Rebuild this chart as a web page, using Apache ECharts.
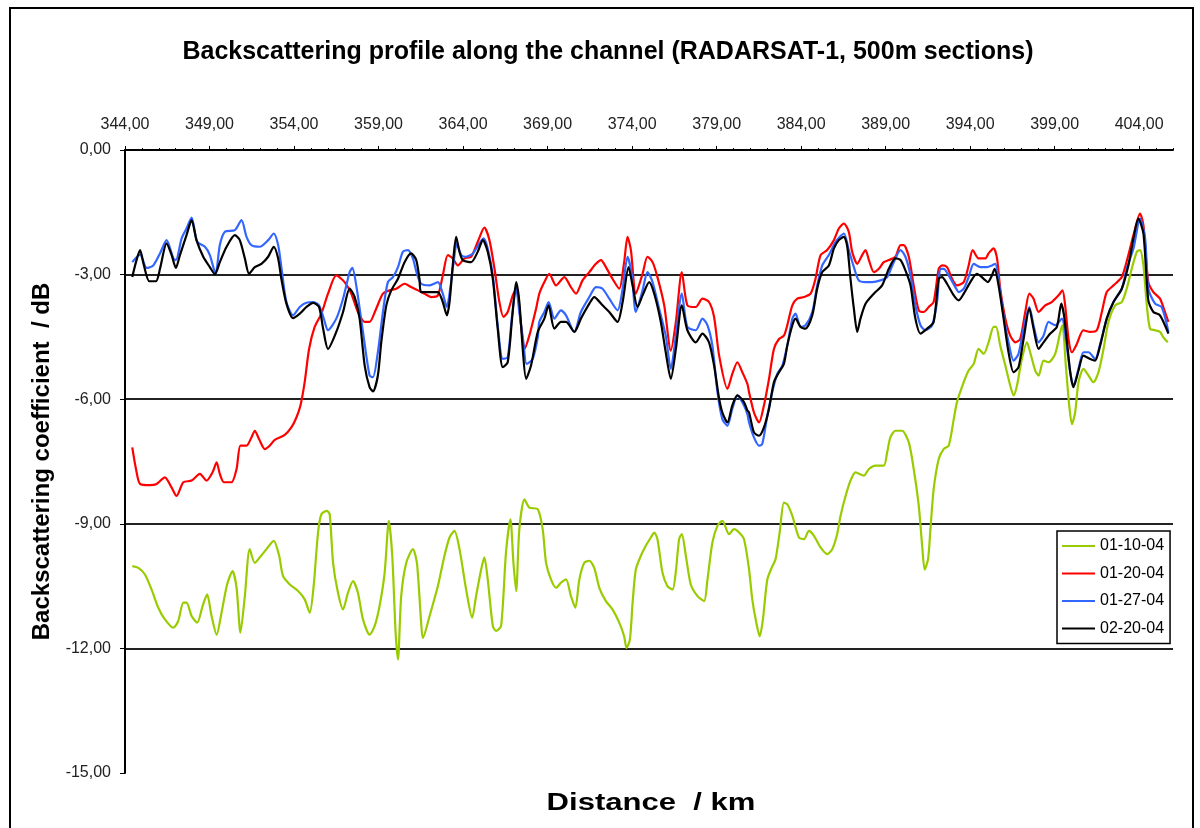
<!DOCTYPE html>
<html>
<head>
<meta charset="utf-8">
<title>Backscattering profile along the channel</title>
<script src="https://cdn.jsdelivr.net/npm/echarts@6/dist/echarts.min.js"></script>
<style>
  html, body { margin: 0; padding: 0; background: #fff; }
  #chart { width: 1200px; height: 828px; }
</style>
</head>
<body>
<div id="chart"></div>
<script>
// [distance km, backscattering dB], one list per acquisition date
const s0110 = [
  [344.43,-10.02],[344.79,-10.06],[345.18,-10.22],[345.57,-10.58],[345.97,-11.02],[346.36,-11.30],[346.86,-11.50],[347.15,-11.34],
  [347.45,-10.90],[347.64,-10.90],[347.94,-11.22],[348.27,-11.38],[348.59,-10.98],[348.86,-10.70],[349.12,-11.22],[349.42,-11.67],
  [349.71,-11.14],[350.04,-10.46],[350.36,-10.14],[350.60,-10.54],[350.83,-11.62],[351.09,-10.74],[351.38,-9.61],[351.68,-9.94],
  [351.97,-9.81],[352.37,-9.61],[352.80,-9.41],[353.12,-9.77],[353.35,-10.26],[353.75,-10.46],[354.24,-10.62],[354.63,-10.82],
  [354.93,-11.14],[355.16,-10.50],[355.42,-9.21],[355.62,-8.77],[355.95,-8.69],
  [356.11,-8.77],[356.31,-9.94],[356.60,-10.66],[356.90,-11.06],[357.19,-10.66],[357.49,-10.38],[357.78,-10.66],[358.08,-11.30],
  [358.47,-11.67],[358.77,-11.46],[359.06,-10.98],[359.36,-10.18],[359.61,-8.93],[359.81,-9.77],[360.01,-11.62],[360.15,-12.27],
  [360.34,-10.74],[360.64,-9.94],[361.03,-9.61],[361.27,-9.94],[361.52,-11.38],[361.62,-11.75],[362.02,-11.22],[362.51,-10.50],
  [362.90,-9.77],[363.20,-9.33],[363.49,-9.17],[363.79,-9.61],[364.18,-10.58],[364.54,-11.26],[364.77,-10.74],[365.07,-10.10],
  [365.26,-9.81],[365.46,-10.34],[365.76,-11.46],[365.95,-11.58],[366.25,-11.46],[366.54,-9.69],[366.80,-8.89],[366.98,-9.94],
  [367.14,-10.62],[367.33,-9.13],[367.63,-8.41],[367.92,-8.61],[368.42,-8.65],
  [368.71,-9.13],[368.91,-9.94],[369.20,-10.34],[369.50,-10.54],[369.79,-10.42],[370.09,-10.34],[370.38,-10.74],[370.64,-11.02],
  [370.88,-10.34],[371.17,-9.94],[371.47,-9.89],[371.76,-10.06],[372.06,-10.54],[372.45,-10.86],[372.84,-11.06],[373.24,-11.38],
  [373.53,-11.71],[373.67,-11.99],[373.87,-11.79],[374.03,-10.90],[374.22,-10.10],[374.52,-9.77],[374.81,-9.53],[375.11,-9.33],
  [375.31,-9.21],[375.50,-9.37],[375.80,-10.18],[376.09,-10.50],[376.39,-10.58],[376.59,-10.14],[376.78,-9.37],[376.94,-9.25],
  [377.18,-9.77],[377.47,-10.46],[377.87,-10.74],[378.26,-10.86],[378.46,-10.34],[378.75,-9.45],[379.05,-9.05],[379.34,-8.93],
  [379.74,-9.25],[380.03,-9.13],[380.33,-9.21],[380.62,-9.37],
  [380.92,-10.10],[381.11,-10.82],[381.31,-11.30],[381.55,-11.71],[381.74,-11.30],[382.00,-10.34],[382.30,-10.02],[382.49,-9.85],
  [382.73,-9.21],[382.98,-8.49],[383.18,-8.53],[383.48,-8.81],[383.87,-9.33],[384.17,-9.37],[384.46,-9.17],[384.76,-9.29],
  [385.15,-9.57],[385.54,-9.73],[385.84,-9.61],[386.13,-9.25],[386.33,-8.81],[386.63,-8.33],[386.92,-7.96],[387.22,-7.76],
  [387.71,-7.84],[388.01,-7.68],[388.40,-7.60],[388.89,-7.60],[389.09,-7.28],[389.28,-6.92],[389.58,-6.76],[389.97,-6.76],
  [390.37,-7.04],[390.66,-7.68],[390.96,-8.57],[391.16,-9.53],[391.31,-10.10],[391.51,-9.85],[391.65,-9.13],[391.84,-8.17],
  [392.14,-7.44],[392.43,-7.20],[392.73,-7.12],[393.03,-6.48],[393.22,-6.07],
  [393.62,-5.59],[393.91,-5.31],[394.21,-5.15],[394.50,-4.79],[394.80,-4.91],[395.09,-4.63],[395.39,-4.26],[395.53,-4.26],
  [395.78,-4.71],[396.08,-5.19],[396.37,-5.67],[396.57,-5.91],[396.77,-5.67],[397.06,-5.03],[397.36,-4.63],[397.55,-4.87],
  [397.85,-5.31],[398.05,-5.43],[398.34,-5.07],[398.64,-5.11],[399.03,-4.91],[399.33,-4.38],[399.46,-4.22],[399.66,-5.19],
  [399.86,-6.15],[400.02,-6.60],[400.21,-6.32],[400.41,-5.59],[400.70,-5.27],[401.00,-5.43],[401.29,-5.59],[401.59,-5.35],
  [401.89,-4.79],[402.18,-4.14],[402.58,-3.74],[402.97,-3.66],[403.26,-3.34],[403.56,-2.86],[403.86,-2.45],[404.05,-2.41],
  [404.25,-2.78],[404.45,-3.74],[404.64,-4.30],[404.94,-4.34],[405.23,-4.38],[405.43,-4.51],[405.69,-4.63]
];

const s0120 = [
  [344.43,-7.16],[344.65,-7.68],[344.89,-8.04],[345.48,-8.07],[345.87,-8.04],[346.36,-7.88],[346.76,-8.13],[347.05,-8.33],
  [347.45,-8.00],[347.94,-7.96],[348.43,-7.80],[348.82,-7.96],[349.18,-7.76],[349.42,-7.52],[349.61,-7.80],[349.85,-8.00],
  [350.30,-8.00],[350.60,-7.68],[350.83,-7.12],[351.19,-7.12],[351.48,-6.92],[351.68,-6.76],[351.93,-6.96],[352.27,-7.20],
  [352.56,-7.12],[352.86,-6.98],[353.45,-6.86],[353.84,-6.68],[354.14,-6.44],[354.38,-6.15],[354.63,-5.59],[354.89,-4.79],
  [355.22,-4.26],[355.62,-3.94],[356.01,-3.46],
  [356.50,-3.02],[356.99,-3.18],[357.39,-3.46],[357.78,-3.90],[358.18,-4.14],[358.47,-4.14],[358.86,-3.82],[359.26,-3.46],
  [359.65,-3.38],[360.05,-3.34],[360.54,-3.22],[360.93,-3.30],[361.33,-3.38],[361.72,-3.46],[362.11,-3.54],[362.51,-3.50],
  [362.80,-3.02],[363.10,-2.53],[363.39,-2.61],[363.69,-2.78],[364.08,-2.61],[364.48,-2.57],[364.87,-2.21],[365.26,-1.87],
  [365.56,-2.17],[365.86,-2.86],[366.15,-3.66],[366.39,-4.02],[366.64,-3.90],[366.94,-3.50],[367.17,-3.34],[367.43,-4.22],
  [367.63,-4.79],[367.92,-4.47],[368.32,-3.82],
  [368.51,-3.46],[368.81,-3.18],[369.10,-2.98],[369.50,-3.26],[369.99,-3.06],[370.38,-3.30],[370.68,-3.46],[371.07,-3.14],
  [371.47,-2.94],[371.86,-2.74],[372.16,-2.65],[372.45,-2.82],[372.84,-3.10],[373.24,-3.34],[373.53,-2.70],[373.73,-2.09],
  [373.93,-2.41],[374.22,-3.46],[374.62,-2.98],[374.91,-2.57],[375.21,-2.70],[375.50,-3.06],[375.90,-3.74],[376.29,-4.83],
  [376.59,-4.14],[376.94,-2.94],[377.27,-3.74],[377.77,-3.78],[378.16,-3.58],[378.55,-3.66],[378.85,-4.02],[379.15,-4.95],
  [379.64,-5.75],[379.93,-5.39],[380.23,-5.11],[380.52,-5.35],[380.82,-5.63],
  [380.92,-5.83],[381.21,-6.32],[381.51,-6.56],[381.80,-6.15],[382.10,-5.51],[382.39,-4.79],[382.69,-4.55],[382.98,-4.47],
  [383.18,-4.22],[383.48,-3.74],[383.77,-3.58],[384.17,-3.54],[384.56,-3.46],[384.85,-3.10],[385.15,-2.53],[385.54,-2.41],
  [385.94,-2.17],[386.23,-1.89],[386.53,-1.77],[386.82,-1.97],[387.02,-2.45],[387.32,-2.74],[387.61,-2.53],[387.81,-2.41],
  [388.01,-2.65],[388.30,-2.94],[388.60,-2.86],[388.89,-2.70],[389.19,-2.65],[389.58,-2.57],[389.88,-2.29],[390.07,-2.29],
  [390.37,-2.57],[390.66,-3.26],[390.96,-3.86],[391.25,-3.90],[391.55,-3.78],[391.84,-3.66],[392.14,-2.86],[392.34,-2.78],
  [392.63,-2.82],[392.93,-3.10],[393.22,-3.26],
  [393.62,-3.18],[393.91,-2.78],[394.15,-2.41],[394.50,-2.61],[394.90,-2.61],[395.09,-2.49],[395.39,-2.37],[395.59,-2.61],
  [395.78,-3.34],[396.08,-4.06],[396.37,-4.47],[396.67,-4.63],[396.96,-4.55],[397.26,-3.90],[397.50,-3.46],[397.75,-3.58],
  [398.05,-3.90],[398.44,-3.74],[398.83,-3.66],[399.23,-3.50],[399.46,-3.38],[399.62,-3.74],[399.82,-4.55],[400.02,-4.87],
  [400.31,-4.67],[400.70,-4.34],[401.10,-4.38],[401.49,-4.34],[401.79,-3.90],[402.08,-3.42],[402.48,-3.26],[402.97,-3.06],
  [403.36,-2.53],[403.66,-2.05],[404.05,-1.53],[404.25,-1.81],[404.54,-3.18],[404.84,-3.42],[405.23,-3.58],[405.49,-3.86],
  [405.73,-4.14]
];

const s0127 = [
  [344.43,-2.70],[344.89,-2.52],[345.28,-2.84],[345.67,-2.78],[346.07,-2.49],[346.46,-2.17],[346.86,-2.61],[347.01,-2.65],
  [347.35,-2.13],[347.64,-1.89],[347.94,-1.63],[348.27,-2.21],[348.73,-2.33],[349.02,-2.53],[349.36,-2.98],[349.61,-2.29],
  [349.91,-1.97],[350.50,-1.93],[350.89,-1.69],[351.19,-2.09],[351.48,-2.29],[351.97,-2.33],[352.47,-2.17],[352.80,-2.01],
  [353.06,-2.29],[353.25,-2.82],[353.55,-3.66],[353.94,-3.98],[354.34,-3.78],[354.73,-3.68],[355.13,-3.66],[355.48,-3.74],
  [355.76,-4.06],[356.01,-4.34],
  [356.50,-4.06],[356.90,-3.58],[357.29,-2.94],[357.45,-2.84],[357.68,-3.26],[358.08,-4.38],[358.47,-5.43],[358.67,-5.47],
  [358.96,-4.87],[359.26,-3.90],[359.55,-3.18],[359.85,-3.06],[360.15,-2.82],[360.44,-2.45],[360.74,-2.41],[361.03,-2.61],
  [361.27,-2.98],[361.52,-3.22],[362.02,-3.26],[362.51,-3.18],[362.80,-3.46],[363.04,-3.78],[363.24,-3.34],[363.43,-2.74],
  [363.63,-2.25],[363.89,-2.53],[364.18,-2.57],[364.58,-2.49],[364.97,-2.25],[365.21,-2.13],[365.46,-2.37],[365.76,-3.02],
  [366.05,-4.22],[366.35,-5.03],[366.64,-4.99],[366.90,-3.98],[367.14,-3.34],[367.33,-3.90],[367.57,-4.63],[367.76,-5.15],
  [368.12,-5.03],[368.42,-4.51],
  [368.51,-4.14],[368.81,-3.90],[369.06,-3.66],[369.40,-4.06],[369.79,-3.86],[370.09,-3.98],[370.58,-4.38],[370.97,-3.90],
  [371.47,-3.54],[371.86,-3.30],[372.25,-3.34],[372.65,-3.58],[373.14,-3.86],[373.44,-3.34],[373.73,-2.57],[373.99,-3.02],
  [374.22,-3.90],[374.62,-3.38],[374.91,-2.94],[375.21,-3.18],[375.60,-3.82],[375.99,-4.47],[376.29,-5.27],[376.59,-4.47],
  [376.94,-3.46],[377.27,-4.26],[377.77,-4.34],[378.16,-4.06],[378.46,-4.22],[378.75,-4.71],[379.05,-5.83],[379.34,-6.48],
  [379.64,-6.64],[379.93,-6.23],[380.23,-5.91],[380.62,-6.15],[380.82,-6.36],
  [380.92,-6.56],[381.21,-6.92],[381.51,-7.12],[381.70,-7.08],[382.00,-6.40],[382.29,-5.83],[382.59,-5.39],[382.89,-5.19],
  [383.18,-4.71],[383.48,-4.06],[383.67,-3.94],[383.97,-4.26],[384.26,-4.22],[384.66,-3.90],[384.95,-3.26],[385.25,-2.78],
  [385.64,-2.53],[386.04,-2.21],[386.53,-2.01],[386.82,-2.41],[387.12,-2.82],[387.41,-3.14],[387.81,-3.18],[388.20,-3.18],
  [388.69,-3.14],[389.09,-3.06],[389.48,-2.70],[389.88,-2.41],[390.17,-2.57],[390.47,-3.02],[390.76,-3.74],[391.06,-4.22],
  [391.35,-4.34],[391.75,-4.22],[392.04,-3.66],[392.24,-2.86],[392.44,-2.86],[392.73,-3.02],[393.12,-3.30],
  [393.32,-3.42],[393.62,-3.34],[393.91,-3.06],[394.21,-2.74],[394.60,-2.82],[395.00,-2.82],[395.29,-2.78],[395.49,-2.74],
  [395.68,-3.14],[395.98,-3.98],[396.27,-4.63],[396.57,-5.07],[396.86,-4.91],[397.16,-4.30],[397.50,-3.78],[397.75,-4.22],
  [398.05,-4.63],[398.34,-4.47],[398.64,-4.14],[399.03,-4.22],[399.43,-4.06],[399.66,-4.55],[399.92,-5.35],[400.11,-5.67],
  [400.41,-5.27],[400.70,-4.87],[401.00,-4.87],[401.39,-5.03],[401.69,-4.67],[402.08,-4.06],[402.48,-3.66],[402.97,-3.34],
  [403.26,-2.86],[403.66,-2.37],[404.05,-1.65],[404.35,-2.13],[404.54,-3.34],[404.94,-3.70],[405.33,-3.78],[405.73,-4.38]
];

const s0220 = [
  [344.43,-3.06],[344.65,-2.70],[344.89,-2.41],[345.12,-2.78],[345.44,-3.16],[345.83,-3.16],[346.07,-2.86],[346.46,-2.25],
  [346.76,-2.53],[347.01,-2.84],[347.25,-2.53],[347.64,-2.05],[347.94,-1.69],[348.23,-2.17],[348.63,-2.57],[349.02,-2.82],
  [349.32,-2.99],[349.61,-2.70],[350.01,-2.33],[350.50,-2.05],[350.79,-2.17],[351.09,-2.61],[351.34,-2.98],[351.68,-2.82],
  [352.07,-2.74],[352.47,-2.57],[352.80,-2.33],[353.06,-2.61],[353.25,-3.10],[353.55,-3.70],[353.94,-4.05],[354.34,-3.94],
  [354.73,-3.78],[355.13,-3.68],[355.48,-3.78],[355.72,-4.30],[356.01,-4.79],
  [356.50,-4.38],[356.90,-3.90],[357.29,-3.34],[357.59,-3.54],[357.88,-4.06],[358.18,-5.19],[358.47,-5.71],[358.67,-5.81],
  [358.96,-5.43],[359.16,-4.63],[359.46,-3.74],[359.75,-3.38],[360.15,-3.10],[360.54,-2.70],[360.93,-2.49],[361.23,-2.65],
  [361.42,-3.10],[361.52,-3.42],[362.02,-3.42],[362.51,-3.42],[362.80,-3.66],[363.04,-3.98],[363.20,-3.66],[363.39,-2.78],
  [363.59,-2.09],[363.79,-2.45],[363.98,-2.65],[364.48,-2.70],[364.87,-2.45],[365.17,-2.17],[365.46,-2.45],[365.76,-3.10],
  [366.05,-4.30],[366.35,-5.23],[366.64,-5.11],[366.90,-4.06],[367.14,-3.18],[367.33,-3.66],[367.53,-4.79],[367.73,-5.51],
  [368.02,-5.19],[368.42,-4.38],
  [368.81,-4.06],[369.06,-3.74],[369.40,-4.30],[369.79,-4.14],[370.09,-4.14],[370.58,-4.38],[370.97,-4.06],[371.47,-3.70],
  [371.76,-3.54],[372.25,-3.74],[372.65,-3.90],[373.14,-4.14],[373.44,-3.66],[373.79,-2.82],[374.03,-3.26],[374.32,-3.78],
  [374.62,-3.50],[375.01,-3.18],[375.31,-3.46],[375.70,-4.14],[375.99,-4.87],[376.29,-5.51],[376.59,-4.79],[376.94,-3.74],
  [377.27,-4.34],[377.77,-4.63],[378.16,-4.42],[378.55,-4.63],[378.85,-5.19],[379.15,-5.99],[379.34,-6.32],[379.64,-6.56],
  [379.93,-6.15],[380.23,-5.91],[380.62,-6.07],[380.82,-6.27],
  [380.92,-6.32],[381.21,-6.80],[381.51,-6.88],[381.80,-6.68],[382.10,-6.23],[382.39,-5.59],[382.69,-5.35],[382.98,-5.15],
  [383.18,-4.71],[383.48,-4.22],[383.67,-4.06],[383.97,-4.26],[384.26,-4.30],[384.66,-3.98],[384.95,-3.34],[385.25,-2.94],
  [385.64,-2.78],[385.94,-2.37],[386.23,-2.17],[386.53,-2.09],[386.73,-2.33],[386.92,-3.10],[387.12,-3.82],[387.32,-4.38],
  [387.51,-4.06],[387.81,-3.70],[388.30,-3.46],[388.79,-3.26],[389.19,-2.86],[389.58,-2.61],[389.88,-2.65],[390.17,-2.90],
  [390.47,-3.26],[390.76,-4.06],[391.06,-4.42],[391.45,-4.30],[391.84,-4.14],[392.14,-3.10],[392.34,-3.06],[392.63,-3.22],
  [393.03,-3.50],
  [393.32,-3.62],[393.62,-3.46],[394.01,-3.18],[394.40,-2.98],[394.80,-3.10],[395.05,-3.18],[395.29,-3.02],[395.45,-2.86],
  [395.68,-3.26],[395.98,-4.06],[396.27,-4.87],[396.57,-5.35],[396.86,-5.23],[397.16,-4.55],[397.50,-3.82],[397.75,-4.30],
  [398.05,-4.79],[398.34,-4.63],[398.74,-4.42],[399.13,-4.26],[399.39,-3.70],[399.58,-4.06],[399.92,-5.35],[400.11,-5.71],
  [400.41,-5.31],[400.70,-4.95],[401.10,-5.03],[401.39,-5.07],[401.69,-4.71],[402.08,-4.06],[402.48,-3.66],[402.97,-3.34],
  [403.36,-2.78],[403.66,-2.13],[403.95,-1.65],[404.25,-2.01],[404.54,-3.62],[404.84,-3.90],[405.23,-3.98],[405.73,-4.42]
];

const seriesNames = ['01-10-04', '01-20-04', '01-27-04', '02-20-04'];
const seriesData = [s0110, s0120, s0127, s0220];
const seriesColors = ['#99cc00', '#ff0000', '#3366ff', '#000000'];

const xMin = 344, xMax = 406, xMajor = 5, xMinor = 1;
const yMin = -15, yMax = 0, yStep = 3;

const font = "'Liberation Sans', Arial, sans-serif";
const commaFmt = v => v.toFixed(2).replace('.', ',');

const chart = echarts.init(document.getElementById('chart'));

const option = {
  animation: false,
  backgroundColor: '#fff',
  textStyle: { fontFamily: font },
  grid: { left: 125, right: 27, top: 150, bottom: 55 },
  legend: {
    data: seriesNames,
    orient: 'vertical',
    left: 1057,
    top: 531,
    icon: 'rect',
    itemWidth: 33,
    itemHeight: 2,
    itemGap: 9.5,
    padding: [6, 6, 6, 5],
    borderColor: '#000',
    borderWidth: 1.5,
    backgroundColor: '#fff',
    textStyle: { fontSize: 16, color: '#000', lineHeight: 18, fontFamily: font }
  },
  xAxis: [
    {
      type: 'value',
      position: 'top',
      min: xMin,
      max: xMax,
      interval: xMajor,
      axisLine: { show: true, lineStyle: { color: '#000', width: 2 } },
      axisTick: { show: true, length: 4, lineStyle: { color: '#000' } },
      axisLabel: { formatter: commaFmt, showMaxLabel: false, fontSize: 16, color: '#222', margin: 17 },
      splitLine: { show: false }
    },
    {
      type: 'value',
      position: 'top',
      min: xMin,
      max: xMax,
      interval: xMinor,
      axisLine: { show: false },
      axisTick: { show: true, length: 2, lineStyle: { color: '#000' } },
      axisLabel: { show: false },
      splitLine: { show: false }
    }
  ],
  yAxis: {
    type: 'value',
    min: yMin,
    max: yMax,
    interval: yStep,
    name: 'Backscattering coefficient  / dB',
    nameLocation: 'middle',
    nameRotate: 90,
    nameGap: 71,
    nameTextStyle: { fontSize: 24, fontWeight: 'bold', color: '#000' },
    axisLine: { show: true, lineStyle: { color: '#000', width: 2 } },
    axisTick: { show: true, length: 5, lineStyle: { color: '#000' } },
    axisLabel: { formatter: commaFmt, fontSize: 16, color: '#222', margin: 14 },
    splitLine: { show: true, showMinLine: false, showMaxLine: false, lineStyle: { color: '#222', width: 2 } }
  },
  graphic: [
    {
      type: 'rect',
      shape: { x: 10, y: 8, width: 1183, height: 840 },
      style: { fill: null, stroke: '#000', lineWidth: 2 },
      silent: true
    },
    {
      type: 'text',
      x: 608, y: 52,
      style: {
        text: 'Backscattering profile along the channel (RADARSAT-1, 500m sections)',
        font: 'bold 25px ' + font,
        fill: '#000',
        textAlign: 'center',
        textVerticalAlign: 'middle'
      }
    },
    {
      type: 'text',
      x: 651, y: 804,
      scaleX: 1.35,
      style: {
        text: 'Distance  / km',
        font: 'bold 23px ' + font,
        fill: '#000',
        textAlign: 'center',
        textVerticalAlign: 'middle'
      }
    }
  ],
  series: seriesNames.map((name, i) => ({
    name: name,
    type: 'line',
    xAxisIndex: 0,
    data: seriesData[i],
    showSymbol: false,
    symbol: 'none',
    smooth: 0.25,
    color: seriesColors[i],
    lineStyle: { width: 2.2, color: seriesColors[i] },
    z: 2 + i
  }))
};

chart.setOption(option);
</script>
</body>
</html>
